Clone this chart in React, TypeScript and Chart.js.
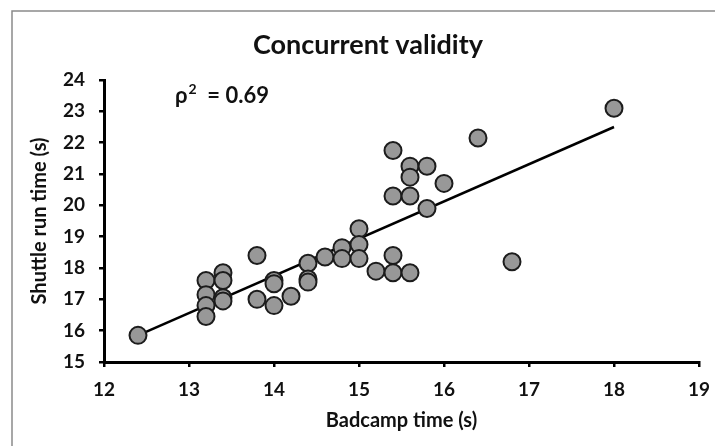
import React, { useEffect, useRef } from 'react';
import { Chart, registerables } from 'chart.js';

Chart.register(...registerables);

// ---- data ----
const badcampTime = [
  12.4, 13.2, 13.2, 13.2, 13.2, 13.4, 13.4, 13.4, 13.4, 13.8,
  13.8, 14.0, 14.0, 14.0, 14.2, 14.4, 14.4, 14.4, 14.6, 14.8,
  14.8, 15.0, 15.0, 15.0, 15.2, 15.4, 15.4, 15.4, 15.4, 15.6,
  15.6, 15.6, 15.6, 15.8, 15.8, 16.0, 16.4, 16.8, 18.0,
];
const shuttleRunTime = [
  15.85, 17.6, 17.15, 16.8, 16.45, 17.85, 17.6, 17.05, 16.95, 18.4,
  17.0, 17.6, 17.5, 16.8, 17.1, 18.15, 17.65, 17.55, 18.35, 18.65,
  18.3, 19.25, 18.75, 18.3, 17.9, 21.75, 20.3, 18.4, 17.85, 21.25,
  20.9, 20.3, 17.85, 21.25, 19.9, 20.7, 22.15, 18.2, 23.1,
];
const trendX = [12.4, 18.0];
const trendY = [15.85, 22.5];

const xTickValues = [12, 13, 14, 15, 16, 17, 18, 19];
const yTickValues = [15, 16, 17, 18, 19, 20, 21, 22, 23, 24];

const chartTitle = 'Concurrent validity';
const xAxisTitle = 'Badcamp time (s)';
const yAxisTitle = 'Shuttle run time (s)';
const rhoBase = 'ρ';
const rhoSup = '2';
const rhoRest = '  = 0.69';

const FONT = 'Lato, "Open Sans", sans-serif';

const framePlugin = {
  id: 'frame',
  beforeDraw(chart: any) {
    const ctx = chart.ctx;
    ctx.save();
    ctx.fillStyle = '#ffffff';
    ctx.fillRect(0, 0, chart.width, chart.height);
    ctx.strokeStyle = '#8a8a8a';
    ctx.lineWidth = 1.5;
    ctx.beginPath();
    ctx.moveTo(12, chart.height);
    ctx.lineTo(12, 11);
    ctx.lineTo(chart.width, 11);
    ctx.stroke();
    ctx.restore();
  },
  afterDraw(chart: any) {
    const ctx = chart.ctx;
    const xs = chart.scales.x;
    const ys = chart.scales.y;
    ctx.save();
    ctx.fillStyle = '#111';
    // chart title
    ctx.textAlign = 'center';
    ctx.textBaseline = 'middle';
    ctx.font = `bold 27px ${FONT}`;
    ctx.fillText(chartTitle, 368, 45);
    // rho^2 annotation
    const x0 = xs.getPixelForValue(12.835);
    const y0 = ys.getPixelForValue(23.27);
    ctx.textBaseline = 'alphabetic';
    ctx.textAlign = 'left';
    ctx.font = `bold 22px ${FONT}`;
    ctx.fillText(rhoBase, x0, y0);
    let x = x0 + ctx.measureText(rhoBase).width + 1;
    ctx.font = `bold 14px ${FONT}`;
    ctx.fillText(rhoSup, x, y0 - 9);
    x += ctx.measureText(rhoSup).width;
    ctx.font = `bold 22px ${FONT}`;
    ctx.fillText(rhoRest, x, y0);
    ctx.restore();
  },
};

export default function App() {
  const ref = useRef<HTMLCanvasElement | null>(null);

  useEffect(() => {
    document.body.style.margin = '0';
    const canvas = ref.current;
    if (!canvas) return;

    const chart = new Chart(canvas, {
      type: 'scatter',
      data: {
        datasets: [
          {
            type: 'line',
            label: 'trend',
            data: trendX.map((x, i) => ({ x, y: trendY[i] })),
            borderColor: '#000',
            borderWidth: 2.5,
            pointRadius: 0,
            fill: false,
            order: 2,
          } as any,
          {
            label: 'data',
            data: badcampTime.map((x, i) => ({ x, y: shuttleRunTime[i] })),
            backgroundColor: '#989898',
            borderColor: '#1c1c1c',
            borderWidth: 2,
            pointRadius: 8.5,
            order: 1,
          },
        ],
      },
      options: {
        responsive: false,
        animation: false,
        events: [],
        layout: { padding: { left: 0, right: 16, top: 80, bottom: 0 } },
        plugins: {
          legend: { display: false },
          tooltip: { enabled: false },
          title: { display: false },
        },
        scales: {
          x: {
            type: 'linear',
            min: 12,
            max: 19,
            afterBuildTicks: (s: any) => {
              s.ticks = xTickValues.map((v) => ({ value: v }));
            },
            afterFit: (s: any) => {
              s.height = 84;
              s.paddingLeft = 0;
              s.paddingRight = 0;
            },
            ticks: {
              color: '#111',
              font: { family: FONT, size: 19, weight: 'bold' },
              padding: 11,
              maxRotation: 0,
            },
            grid: {
              drawOnChartArea: false,
              drawTicks: true,
              tickLength: 5,
              color: '#000',
              lineWidth: 2.5,
            },
            border: { color: '#000', width: 3 },
            title: {
              display: true,
              text: xAxisTitle,
              color: '#111',
              font: { family: FONT, size: 20, weight: 'bold', lineHeight: 1.2 },
              padding: { top: 0, bottom: 13 },
            },
          },
          y: {
            type: 'linear',
            min: 15,
            max: 24,
            afterBuildTicks: (s: any) => {
              s.ticks = yTickValues.map((v) => ({ value: v }));
            },
            afterFit: (s: any) => {
              s.width = 104;
              s.paddingTop = 0;
              s.paddingBottom = 0;
            },
            ticks: {
              color: '#111',
              font: { family: FONT, size: 19, weight: 'bold' },
              padding: 14,
            },
            grid: {
              drawOnChartArea: false,
              drawTicks: true,
              tickLength: 5,
              color: '#000',
              lineWidth: 2.5,
            },
            border: { color: '#000', width: 3 },
            title: {
              display: true,
              text: yAxisTitle,
              color: '#111',
              font: { family: FONT, size: 20, weight: 'bold', lineHeight: 1.2 },
              padding: { top: 28, bottom: 0 },
            },
          },
        },
      },
      plugins: [framePlugin],
    } as any);

    return () => chart.destroy();
  }, []);

  return (
    <div style={{ width: 715, height: 446 }}>
      <canvas ref={ref} width={715} height={446} style={{ display: 'block' }} />
    </div>
  );
}
